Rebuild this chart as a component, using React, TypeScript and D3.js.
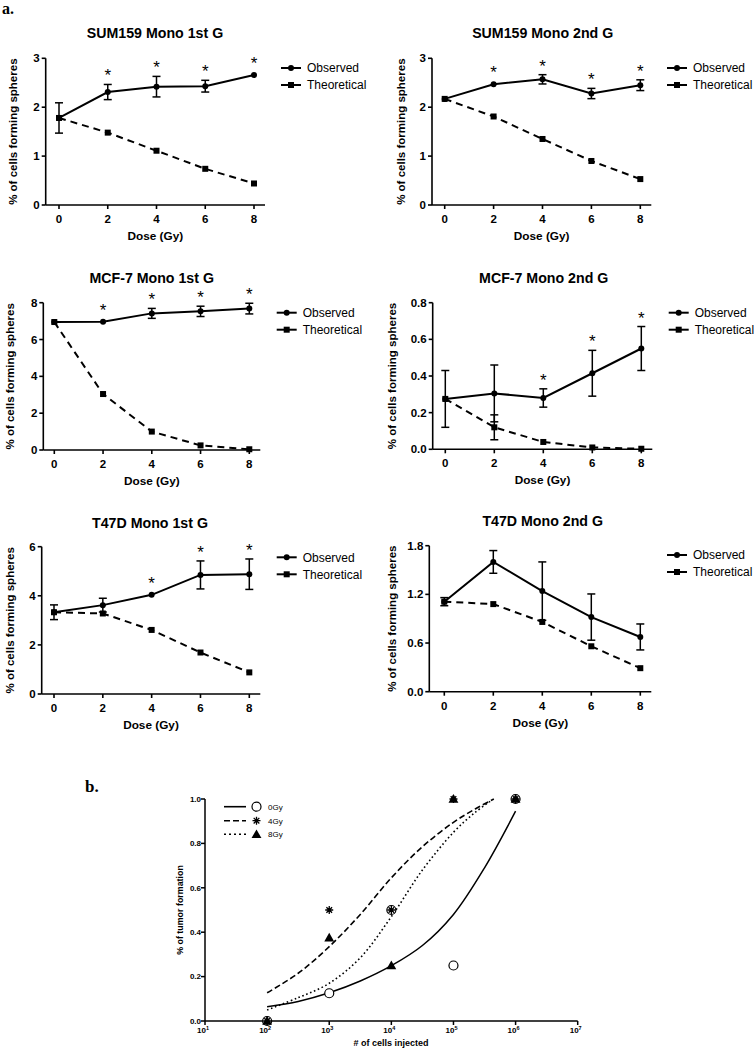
import React from 'react';
import * as d3 from 'd3';

// ---------- data: panel a ----------
const doses = [0, 2, 4, 6, 8];
const seriesNames = ['Observed', 'Theoretical'];

const titles = [
  'SUM159 Mono 1st G',
  'SUM159 Mono 2nd G',
  'MCF-7 Mono 1st G',
  'MCF-7 Mono 2nd G',
  'T47D Mono 1st G',
  'T47D Mono 2nd G',
];

const sum159FirstObs = [1.78, 2.31, 2.42, 2.43, 2.66];
const sum159FirstObsSem = [0.31, 0.155, 0.21, 0.12, 0.02];
const sum159FirstTheo = [1.78, 1.48, 1.11, 0.74, 0.44];
const sum159FirstTheoSem = [0, 0, 0, 0, 0];
const sum159FirstStars = [2, 4, 6, 8];

const sum159SecondObs = [2.17, 2.47, 2.57, 2.28, 2.45];
const sum159SecondObsSem = [0.07, 0.03, 0.095, 0.105, 0.11];
const sum159SecondTheo = [2.17, 1.81, 1.35, 0.9, 0.53];
const sum159SecondTheoSem = [0, 0, 0, 0, 0];
const sum159SecondStars = [2, 4, 6, 8];

const mcf7FirstObs = [6.95, 6.96, 7.42, 7.53, 7.68];
const mcf7FirstObsSem = [0.15, 0.05, 0.27, 0.28, 0.29];
const mcf7FirstTheo = [6.95, 3.04, 1.0, 0.25, 0.04];
const mcf7FirstTheoSem = [0, 0, 0, 0, 0];
const mcf7FirstStars = [2, 4, 6, 8];

const mcf7SecondObs = [0.275, 0.305, 0.28, 0.415, 0.55];
const mcf7SecondObsSem = [0.155, 0.155, 0.05, 0.125, 0.12];
const mcf7SecondTheo = [0.275, 0.12, 0.04, 0.01, 0.003];
const mcf7SecondTheoSem = [0, 0.068, 0.018, 0, 0];
const mcf7SecondStars = [4, 6, 8];

const t47dFirstObs = [3.33, 3.62, 4.04, 4.85, 4.88];
const t47dFirstObsSem = [0.3, 0.28, 0.02, 0.57, 0.62];
const t47dFirstTheo = [3.33, 3.28, 2.61, 1.69, 0.88];
const t47dFirstTheoSem = [0, 0, 0, 0, 0];
const t47dFirstStars = [4, 6, 8];

const t47dSecondObs = [1.11, 1.6, 1.24, 0.92, 0.675];
const t47dSecondObsSem = [0.05, 0.14, 0.36, 0.285, 0.16];
const t47dSecondTheo = [1.11, 1.08, 0.86, 0.56, 0.29];
const t47dSecondTheoSem = [0, 0, 0, 0, 0];
const t47dSecondStars: number[] = [];

const yTicks1 = [0, 1, 2, 3];
const yTicks3 = [0, 2, 4, 6, 8];
const yTicks4 = [0, 0.2, 0.4, 0.6, 0.8];
const yTicks5 = [0, 2, 4, 6];
const yTicks6 = [0, 0.6, 1.2, 1.8];

// ---------- data: panel b ----------
const cellsInjected = [1e2, 1e3, 1e4, 1e5, 1e6];
const tumor0Gy = [0, 0.125, 0.5, 0.25, 1.0];
const tumor4Gy = [0, 0.5, 0.5, 1.0, 1.0];
const tumor8Gy = [0, 0.375, 0.25, 1.0, 1.0];
const doseLabelsB = ['0Gy', '4Gy', '8Gy'];

// fitted curves (cells as powers of ten, fraction)
const fit0GyExp = [2, 2.5, 3, 3.5, 4, 4.5, 5, 5.5, 6];
const fit0GyVal = [0.064, 0.088, 0.127, 0.18, 0.249, 0.34, 0.48, 0.69, 0.945];
const fit4GyExp = [2, 2.5, 3, 3.5, 4, 4.5, 5, 5.35, 5.65];
const fit4GyVal = [0.127, 0.215, 0.335, 0.48, 0.645, 0.785, 0.895, 0.955, 1.0];
const fit8GyExp = [2, 2.5, 3, 3.5, 4, 4.5, 5, 5.35, 5.62];
const fit8GyVal = [0.05, 0.105, 0.17, 0.285, 0.47, 0.68, 0.85, 0.94, 0.995];

const xExpTicks = [1, 2, 3, 4, 5, 6, 7];
const yTicksB = [0, 0.2, 0.4, 0.6, 0.8, 1.0];

// ---------- layout ----------
const SANS = '"Liberation Sans", Arial, Helvetica, sans-serif';
const SERIF = '"Liberation Serif", "Times New Roman", serif';

type PanelLayout = {
  axisX: number; x0: number; x8: number; yTop: number; yBot: number;
  titleX: number; titleY: number; ylabX: number; legX: number; legY: number;
};

const layouts: PanelLayout[] = [
  { axisX: 45.7, x0: 59, x8: 254, yTop: 58.3, yBot: 205, titleX: 155, titleY: 33, ylabX: 13, legX: 281, legY: 68 },
  { axisX: 432, x0: 444.7, x8: 640.3, yTop: 58.3, yBot: 205, titleX: 542.7, titleY: 33, ylabX: 401, legX: 667, legY: 68 },
  { axisX: 43.3, x0: 54.3, x8: 249.3, yTop: 302.7, yBot: 450, titleX: 151.7, titleY: 278.3, ylabX: 10, legX: 276.7, legY: 312.7 },
  { axisX: 432.7, x0: 445.3, x8: 641.3, yTop: 302.7, yBot: 449.3, titleX: 543.7, titleY: 278.3, ylabX: 392, legX: 668.7, legY: 312.7 },
  { axisX: 41.7, x0: 54, x8: 249.3, yTop: 546.7, yBot: 694, titleX: 150, titleY: 523.3, ylabX: 10, legX: 276.7, legY: 557.3 },
  { axisX: 429.3, x0: 444.3, x8: 640.3, yTop: 545.7, yBot: 691.7, titleX: 542.7, titleY: 520.7, ylabX: 392, legX: 667, legY: 555 },
];

type PanelData = {
  obs: number[]; obsSem: number[]; theo: number[]; theoSem: number[];
  stars: number[]; yTicks: number[]; fmt: string;
};

const panelData: PanelData[] = [
  { obs: sum159FirstObs, obsSem: sum159FirstObsSem, theo: sum159FirstTheo, theoSem: sum159FirstTheoSem, stars: sum159FirstStars, yTicks: yTicks1, fmt: 'd' },
  { obs: sum159SecondObs, obsSem: sum159SecondObsSem, theo: sum159SecondTheo, theoSem: sum159SecondTheoSem, stars: sum159SecondStars, yTicks: yTicks1, fmt: 'd' },
  { obs: mcf7FirstObs, obsSem: mcf7FirstObsSem, theo: mcf7FirstTheo, theoSem: mcf7FirstTheoSem, stars: mcf7FirstStars, yTicks: yTicks3, fmt: 'd' },
  { obs: mcf7SecondObs, obsSem: mcf7SecondObsSem, theo: mcf7SecondTheo, theoSem: mcf7SecondTheoSem, stars: mcf7SecondStars, yTicks: yTicks4, fmt: '.1f' },
  { obs: t47dFirstObs, obsSem: t47dFirstObsSem, theo: t47dFirstTheo, theoSem: t47dFirstTheoSem, stars: t47dFirstStars, yTicks: yTicks5, fmt: 'd' },
  { obs: t47dSecondObs, obsSem: t47dSecondObsSem, theo: t47dSecondTheo, theoSem: t47dSecondTheoSem, stars: t47dSecondStars, yTicks: yTicks6, fmt: '.1f' },
];

function ErrorBars({ vals, sem, x, y }: { vals: number[]; sem: number[]; x: any; y: any }) {
  return (
    <g stroke="#000" strokeWidth={1.5}>
      {vals.map((v, i) => {
        if (!sem[i] || sem[i] < 0.025 * (y.domain()[1])) return null;
        const cx = x(doses[i]);
        const y1 = y(v + sem[i]);
        const y2 = y(Math.max(0, v - sem[i]));
        return (
          <g key={i}>
            <line x1={cx} x2={cx} y1={y1} y2={y2} />
            <line x1={cx - 4} x2={cx + 4} y1={y1} y2={y1} />
            <line x1={cx - 4} x2={cx + 4} y1={y2} y2={y2} />
          </g>
        );
      })}
    </g>
  );
}

function DosePanel({ L, D, title }: { L: PanelLayout; D: PanelData; title: string }) {
  const yMax = D.yTicks[D.yTicks.length - 1];
  const x = d3.scaleLinear().domain([0, 8]).range([L.x0, L.x8]);
  const y = d3.scaleLinear().domain([0, yMax]).range([L.yBot, L.yTop]);
  const line = d3.line<number>().x((_, i) => x(doses[i])).y((d) => y(d));
  const fmt = d3.format(D.fmt);
  const axisEnd = L.x8 + 11;
  const sq = 6;
  return (
    <g fontFamily={SANS}>
      <text x={L.titleX} y={L.titleY + 5} textAnchor="middle" fontWeight="bold" fontSize={14.2}>{title}</text>
      {/* axes */}
      <g stroke="#000" strokeWidth={1.6} fill="none">
        <line x1={L.axisX} x2={L.axisX} y1={L.yTop} y2={L.yBot} />
        <line x1={L.axisX} x2={axisEnd} y1={L.yBot} y2={L.yBot} />
        {D.yTicks.map((t) => (
          <line key={'yt' + t} x1={L.axisX - 4} x2={L.axisX} y1={y(t)} y2={y(t)} />
        ))}
        {doses.map((t) => (
          <line key={'xt' + t} x1={x(t)} x2={x(t)} y1={L.yBot} y2={L.yBot + 4} />
        ))}
      </g>
      {D.yTicks.map((t) => (
        <text key={'yl' + t} x={L.axisX - 6} y={y(t)} dy="0.35em" textAnchor="end" fontWeight="bold" fontSize={11.5}>{fmt(t)}</text>
      ))}
      {doses.map((t) => (
        <text key={'xl' + t} x={x(t)} y={L.yBot + 18} textAnchor="middle" fontWeight="bold" fontSize={11.5}>{t}</text>
      ))}
      <text x={(L.axisX + axisEnd) / 2} y={L.yBot + 35} textAnchor="middle" fontWeight="bold" fontSize={11.8}>Dose (Gy)</text>
      <text transform={`translate(${L.ylabX},${(L.yTop + L.yBot) / 2}) rotate(-90)`} textAnchor="middle" dy="0.35em" fontWeight="bold" fontSize={11.5}>% of cells forming spheres</text>
      {/* series */}
      <path d={line(D.theo) || ''} fill="none" stroke="#000" strokeWidth={2} strokeDasharray="7,5" />
      <path d={line(D.obs) || ''} fill="none" stroke="#000" strokeWidth={2} />
      <ErrorBars vals={D.theo} sem={D.theoSem} x={x} y={y} />
      <ErrorBars vals={D.obs} sem={D.obsSem} x={x} y={y} />
      {D.theo.map((v, i) => (
        <rect key={'s' + i} x={x(doses[i]) - sq / 2} y={y(v) - sq / 2} width={sq} height={sq} fill="#000" />
      ))}
      {D.obs.map((v, i) => (
        <circle key={'c' + i} cx={x(doses[i])} cy={y(v)} r={3} fill="#000" />
      ))}
      {D.stars.map((dv) => {
        const i = doses.indexOf(dv);
        const top = Math.min(y(D.obs[i] + D.obsSem[i]), y(D.obs[i]) - 3) - 13;
        return (
          <text key={'st' + dv} x={x(dv)} y={top + 10} textAnchor="middle" fontSize={17}>*</text>
        );
      })}
      {/* legend */}
      <g>
        <line x1={L.legX} x2={L.legX + 20} y1={L.legY} y2={L.legY} stroke="#000" strokeWidth={2} />
        <circle cx={L.legX + 10} cy={L.legY} r={3} fill="#000" />
        <text x={L.legX + 26} y={L.legY} dy="0.35em" fontSize={12}>{seriesNames[0]}</text>
        <line x1={L.legX} x2={L.legX + 20} y1={L.legY + 17} y2={L.legY + 17} stroke="#000" strokeWidth={2} />
        <rect x={L.legX + 10 - sq / 2} y={L.legY + 17 - sq / 2} width={sq} height={sq} fill="#000" />
        <text x={L.legX + 26} y={L.legY + 17} dy="0.35em" fontSize={12}>{seriesNames[1]}</text>
      </g>
    </g>
  );
}

function asteriskPath(cx: number, cy: number, r: number) {
  const p = d3.path();
  for (let k = 0; k < 4; k++) {
    const a = (k * Math.PI) / 4;
    p.moveTo(cx - r * Math.cos(a), cy - r * Math.sin(a));
    p.lineTo(cx + r * Math.cos(a), cy + r * Math.sin(a));
  }
  return p.toString();
}

function TumorPanel() {
  const x = d3.scaleLog().domain([10, 1e7]).range([205, 577.7]);
  const y = d3.scaleLinear().domain([0, 1]).range([1021, 799]);
  const curve = (exps: number[], vals: number[]) =>
    d3.line<number>().x((_, i) => x(Math.pow(10, exps[i]))).y((d) => y(d)).curve(d3.curveCatmullRom)(vals) || '';
  const tri = d3.symbol().type(d3.symbolTriangle).size(42);
  const legRows = [
    { dash: undefined as string | undefined, marker: 'circle' },
    { dash: '6,3', marker: 'asterisk' },
    { dash: '2,3', marker: 'triangle' },
  ];
  const legX = 224;
  const legY = [806.7, 820.7, 834.3];
  const drawMarker = (m: string, cx: number, cy: number, k: string) => {
    if (m === 'circle') return <circle key={k} cx={cx} cy={cy} r={4.5} fill="#fff" stroke="#000" strokeWidth={1.2} />;
    if (m === 'asterisk') return <path key={k} d={asteriskPath(cx, cy, 4)} stroke="#000" strokeWidth={1.3} fill="none" />;
    return <path key={k} d={tri() || ''} transform={`translate(${cx},${cy + 0.8})`} fill="#000" />;
  };
  return (
    <g fontFamily={SANS}>
      {/* axes */}
      <g stroke="#000" strokeWidth={1.5} fill="none">
        <line x1={205} x2={205} y1={799} y2={1021} />
        <line x1={205} x2={577.7} y1={1021} y2={1021} />
        {yTicksB.map((t) => (
          <line key={'byt' + t} x1={201} x2={205} y1={y(t)} y2={y(t)} />
        ))}
        {xExpTicks.map((e) => (
          <line key={'bxt' + e} x1={x(Math.pow(10, e))} x2={x(Math.pow(10, e))} y1={1021} y2={1025} />
        ))}
      </g>
      {yTicksB.map((t) => (
        <text key={'byl' + t} x={201} y={y(t)} dy="0.35em" textAnchor="end" fontSize={8} fontWeight="bold">{d3.format('.1f')(t)}</text>
      ))}
      {xExpTicks.map((e) => (
        <text key={'bxl' + e} x={x(Math.pow(10, e)) - 2} y={1033} textAnchor="middle" fontSize={8} fontWeight="bold">
          10<tspan dy={-3.5} fontSize={5.5}>{e}</tspan>
        </text>
      ))}
      <text x={391} y={1046} textAnchor="middle" fontSize={9} fontWeight="bold"># of cells injected</text>
      <text transform={`translate(180,910) rotate(-90)`} textAnchor="middle" dy="0.35em" fontSize={8.9} fontWeight="bold">% of tumor formation</text>
      {/* fitted curves */}
      <path d={curve(fit0GyExp, fit0GyVal)} fill="none" stroke="#000" strokeWidth={1.5} />
      <path d={curve(fit4GyExp, fit4GyVal)} fill="none" stroke="#000" strokeWidth={1.6} strokeDasharray="6,3" />
      <path d={curve(fit8GyExp, fit8GyVal)} fill="none" stroke="#000" strokeWidth={1.6} strokeDasharray="1.6,2.6" />
      {/* points */}
      {tumor0Gy.map((v, i) => drawMarker('circle', x(cellsInjected[i]), y(v), 'p0' + i))}
      {tumor4Gy.map((v, i) => drawMarker('asterisk', x(cellsInjected[i]), y(v), 'p4' + i))}
      {tumor8Gy.map((v, i) => drawMarker('triangle', x(cellsInjected[i]), y(v), 'p8' + i))}
      {/* legend */}
      {legRows.map((r, i) => (
        <g key={'leg' + i}>
          <line x1={legX} x2={legX + 22} y1={legY[i]} y2={legY[i]} stroke="#000" strokeWidth={1.6} strokeDasharray={r.dash} />
          {drawMarker(r.marker, legX + 32.5, legY[i], 'lm' + i)}
          <text x={legX + 44} y={legY[i]} dy="0.35em" fontSize={8}>{doseLabelsB[i]}</text>
        </g>
      ))}
    </g>
  );
}

export default function App() {
  return (
    <svg width={754} height={1050} style={{ position: 'absolute', left: 0, top: 0, background: '#fff' }}>
      <rect x={0} y={0} width={754} height={1050} fill="#fff" />
      <text x={2} y={14} fontFamily={SERIF} fontWeight="bold" fontSize={16}>a.</text>
      {layouts.map((L, i) => (
        <DosePanel key={i} L={L} D={panelData[i]} title={titles[i]} />
      ))}
      <text x={85} y={792} fontFamily={SERIF} fontWeight="bold" fontSize={17}>b.</text>
      <TumorPanel />
    </svg>
  );
}
